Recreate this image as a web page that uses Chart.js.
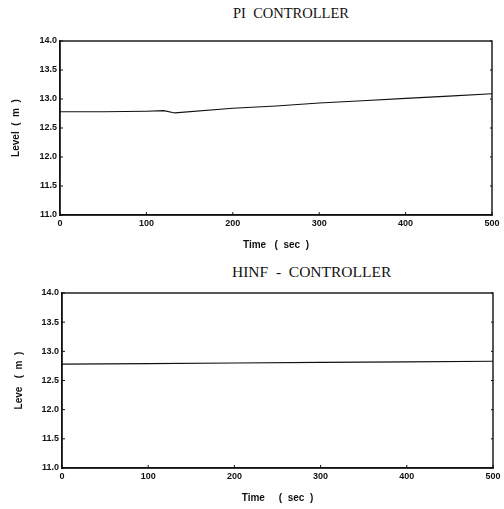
<!DOCTYPE html>
<html>
<head>
<meta charset="utf-8">
<script src="https://cdn.jsdelivr.net/npm/chart.js@4/dist/chart.umd.min.js"></script>
<style>
  body { margin: 0; background: #fff; }
  #wrap { position: relative; width: 504px; height: 509px; overflow: hidden; }
  .box { position: absolute; left: 0; width: 504px; }
  .ttl { position: absolute; font-family: "Liberation Serif", "Times New Roman", serif; line-height: 1; color: #111; white-space: pre; }
</style>
</head>
<body>
<div id="wrap">
  <div class="ttl" style="left:233px; top:6px; font-size:14.5px;">PI  CONTROLLER</div>
  <div class="box" style="top:0; height:252px;"><canvas id="piChart"></canvas></div>
  <div class="ttl" style="left:232px; top:264px; font-size:15.5px;">HINF  -  CONTROLLER</div>
  <div class="box" style="top:252px; height:257px;"><canvas id="hinfChart"></canvas></div>
</div>
<script>
const piTime = [0, 50, 100, 120, 133, 200, 250, 300, 350, 400, 450, 500];
const piLevel = [12.78, 12.78, 12.79, 12.80, 12.76, 12.84, 12.88, 12.93, 12.97, 13.01, 13.05, 13.09];

const hinfTime = [0, 100, 200, 300, 400, 500];
const hinfLevel = [12.78, 12.79, 12.80, 12.81, 12.82, 12.83];

const xTicks = [0, 100, 200, 300, 400, 500];
const yTicks = [11.0, 11.5, 12.0, 12.5, 13.0, 13.5, 14.0];

// frame + small inward ticks
const framePlugin = {
    id: "frame",
    afterDatasetsDraw(chart) {
        const { ctx, chartArea: a, scales } = chart;
        ctx.save();
        ctx.strokeStyle = "#111";
        ctx.lineWidth = 1.4;
        ctx.strokeRect(a.left, a.top, a.right - a.left, a.bottom - a.top);
        ctx.lineWidth = 1;
        ctx.beginPath();
        scales.y.ticks.forEach((t) => {
            const py = scales.y.getPixelForValue(t.value);
            ctx.moveTo(a.left, py);
            ctx.lineTo(a.left + 3, py);
            ctx.moveTo(a.right, py);
            ctx.lineTo(a.right - 2, py);
        });
        scales.x.ticks.forEach((t) => {
            const px = scales.x.getPixelForValue(t.value);
            ctx.moveTo(px, a.bottom);
            ctx.lineTo(px, a.bottom - 3);
        });
        ctx.stroke();
        ctx.restore();
    },
};

const makeChart = (id, xs, ys, yTitle, xTitle, pad, yWidth, yTitlePad) => {
    const ctx = document.getElementById(id).getContext("2d");
    return new Chart(ctx, {
        type: "line",
        data: {
            datasets: [
                {
                    data: xs.map((x, i) => ({ x: x, y: ys[i] })),
                    borderColor: "#111",
                    borderWidth: 1.1,
                    pointRadius: 0,
                    tension: 0,
                },
            ],
        },
        options: {
            responsive: true,
            maintainAspectRatio: false,
            animation: false,
            layout: { padding: pad },
            plugins: { legend: { display: false }, tooltip: { enabled: false }, title: { display: false } },
            scales: {
                x: {
                    type: "linear",
                    min: 0,
                    max: 500,
                    afterBuildTicks: (s) => { s.ticks = xTicks.map((v) => ({ value: v })); },
                    afterFit: (s) => { s.height = 36; },
                    grid: { display: false, drawTicks: false },
                    border: { display: true, color: "#111", width: 1.4 },
                    ticks: {
                        color: "#111",
                        padding: 3,
                        maxRotation: 0,
                        font: { family: "Liberation Sans, Arial, sans-serif", size: 9, weight: "bold" },
                    },
                    title: {
                        display: true,
                        text: xTitle,
                        color: "#111",
                        padding: { top: 0, bottom: 0 },
                        font: { family: "Liberation Sans, Arial, sans-serif", size: 10, weight: "bold" },
                    },
                },
                y: {
                    min: 11,
                    max: 14,
                    afterBuildTicks: (s) => { s.ticks = yTicks.map((v) => ({ value: v })); },
                    afterFit: (s) => { s.width = yWidth; },
                    grid: { display: false, drawTicks: false },
                    border: { display: true, color: "#111", width: 1.4 },
                    ticks: {
                        color: "#111",
                        padding: 3,
                        callback: (v) => Number(v).toFixed(1),
                        font: { family: "Liberation Sans, Arial, sans-serif", size: 9, weight: "bold" },
                    },
                    title: {
                        display: true,
                        text: yTitle,
                        color: "#111",
                        padding: { top: yTitlePad, bottom: 0 },
                        font: { family: "Liberation Sans, Arial, sans-serif", size: 10, weight: "bold" },
                    },
                },
            },
        },
        plugins: [framePlugin],
    });
};

makeChart("piChart", piTime, piLevel, "Level  (  m  )", "Time   (  sec  )",
    { top: 41, left: 10, right: 12, bottom: 1 }, 50, 0);
makeChart("hinfChart", hinfTime, hinfLevel, "Leve   (  m  )", "Time     (  sec  )",
    { top: 41, left: 10, right: 11, bottom: 5 }, 52, 3);
</script>
</body>
</html>
